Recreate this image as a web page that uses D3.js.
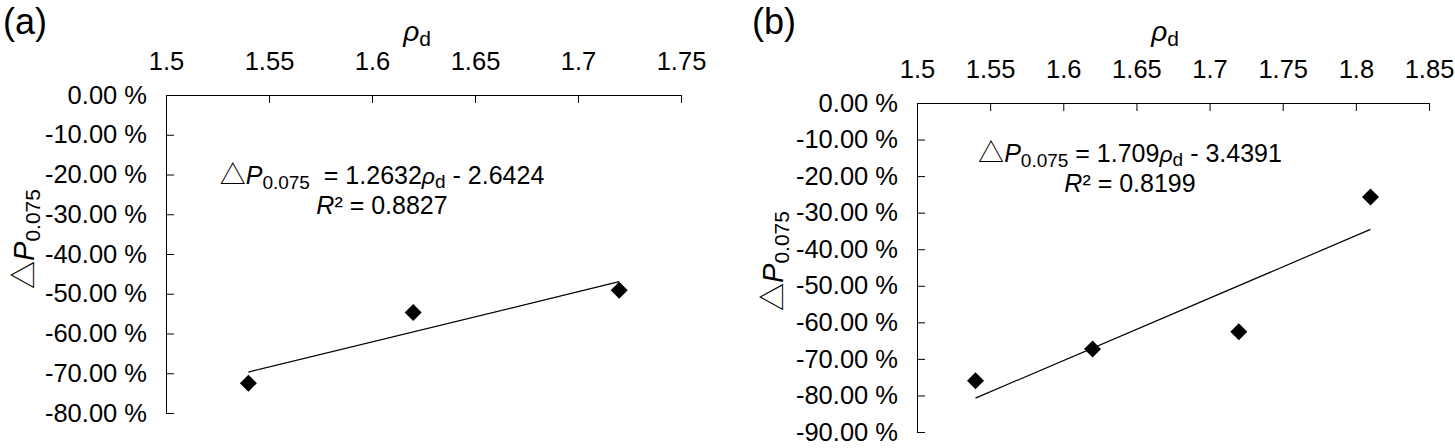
<!DOCTYPE html>
<html>
<head>
<meta charset="utf-8">
<script src="https://cdn.jsdelivr.net/npm/d3@7"></script>
<style>
  html, body { margin: 0; padding: 0; background: #fff; }
  svg { display: block; }
  text { font-family: "Liberation Sans Narrow", "Arial Narrow", "Liberation Sans", Arial, sans-serif; fill: #000; }
</style>
</head>
<body>
<svg id="chart" width="1455" height="448"></svg>
<script>
// ---------------- data ----------------
const panelLabels = ["(a)", "(b)"];

const xTicksA = [1.5, 1.55, 1.6, 1.65, 1.7, 1.75];
const yTicksA = [0, -0.1, -0.2, -0.3, -0.4, -0.5, -0.6, -0.7, -0.8];
const rhoA = [1.54, 1.62, 1.72];
const dPA = [-0.725, -0.547, -0.491];
const fitA = [1.2632, -2.6424];   // slope, intercept
const r2A = "0.8827";

const xTicksB = [1.5, 1.55, 1.6, 1.65, 1.7, 1.75, 1.8, 1.85];
const yTicksB = [0, -0.1, -0.2, -0.3, -0.4, -0.5, -0.6, -0.7, -0.8, -0.9];
const rhoB = [1.54, 1.62, 1.72, 1.81];
const dPB = [-0.760, -0.673, -0.626, -0.257];
const fitB = [1.709, -3.4391];
const r2B = "0.8199";

// ---------------- layout ----------------
const svg = d3.select("#chart");
const FS = 25.5;
const EQ = 25;

const panels = [
  { label: panelLabels[0], labelX: 3, xTicks: xTicksA, yTicks: yTicksA, rho: rhoA, dP: dPA, fit: fitA, r2: r2A,
    left: 166, right: 681, top: 95, bottom: 413, titleX: 417, titleY: 41,
    yTitleX: 34, yTitleY: 239, eqX: 382, eqY: 184, eqGap: "\u00a0\u00a0" },
  { label: panelLabels[1], labelX: 752, xTicks: xTicksB, yTicks: yTicksB, rho: rhoB, dP: dPB, fit: fitB, r2: r2B,
    left: 917, right: 1429, top: 103, bottom: 432, titleX: 1165, titleY: 41,
    yTitleX: 783, yTitleY: 261, eqX: 1130, eqY: 162, eqGap: "\u00a0" }
];

function richText(g, segs, opts) {
  const t = g.append("text")
    .attr("x", opts.x).attr("y", opts.y)
    .attr("text-anchor", opts.anchor || "start")
    .style("font-size", (opts.size || FS) + "px");
  if (opts.transform) t.attr("transform", opts.transform);
  let shift = 0;
  segs.forEach(s => {
    const ts = t.append("tspan").text(s.t);
    const want = s.sub ? s.sub : 0;
    if (want !== shift) { ts.attr("dy", want - shift); shift = want; }
    if (s.italic) ts.style("font-style", "italic");
    if (s.size) ts.style("font-size", s.size + "px");
    if (s.font) ts.style("font-family", s.font);
  });
  return t;
}

const TRI_FONT = '"Noto Sans CJK SC", "DejaVu Sans", sans-serif';
const REG_FONT = '"Liberation Sans", Arial, sans-serif';

panels.forEach(p => {
  const g = svg.append("g");
  const x = d3.scaleLinear().domain([p.xTicks[0], p.xTicks[p.xTicks.length - 1]]).range([p.left, p.right]);
  const y = d3.scaleLinear().domain([p.yTicks[0], p.yTicks[p.yTicks.length - 1]]).range([p.top, p.bottom]);

  // panel label
  g.append("text").attr("x", p.labelX).attr("y", 34).style("font-size", "36px").text(p.label);

  // x axis (top)
  const xa = g.append("g").attr("transform", `translate(0,${p.top})`)
    .call(d3.axisTop(x).tickValues(p.xTicks).tickFormat(d => String(d))
      .tickSizeInner(-8).tickSizeOuter(0).tickPadding(25));
  xa.selectAll("text").style("font-size", FS + "px");
  xa.attr("font-family", null).attr("font-size", null);

  // y axis (left)
  const ya = g.append("g").attr("transform", `translate(${p.left},0)`)
    .call(d3.axisLeft(y).tickValues(p.yTicks).tickFormat(d => (Math.abs(d) < 1e-9 ? 0 : d * 100).toFixed(2) + " %")
      .tickSizeInner(-8).tickSizeOuter(0).tickPadding(19));
  ya.selectAll("text").style("font-size", FS + "px");
  ya.attr("font-family", null).attr("font-size", null);
  g.selectAll(".domain, .tick line").attr("stroke", "#000").attr("stroke-width", 1);

  // x title
  richText(g, [{ t: "ρ", italic: true, size: 28, font: REG_FONT }, { t: "d", sub: 5, size: 21 }],
    { x: p.titleX, y: p.titleY, anchor: "middle" });

  // y title
  richText(g, [{ t: "△", font: TRI_FONT, size: 28 }, { t: "P", italic: true, size: 29 }, { t: "0.075", sub: 6, size: 21 }],
    { x: p.yTitleY, y: p.yTitleX, anchor: "middle", transform: `rotate(-90) translate(${-2 * p.yTitleY},0)` });

  // trendline
  const xs = [d3.min(p.rho), d3.max(p.rho)];
  g.append("path")
    .attr("d", d3.line().x(d => x(d)).y(d => y(p.fit[0] * d + p.fit[1]))(xs))
    .attr("fill", "none").attr("stroke", "#000").attr("stroke-width", 1.2);

  // markers (diamonds)
  const h = 8.5;
  g.selectAll("path.pt").data(p.rho.map((r, i) => [r, p.dP[i]])).enter().append("path")
    .attr("class", "pt")
    .attr("transform", d => `translate(${x(d[0])},${y(d[1])})`)
    .attr("d", `M0,${-h}L${h},0L0,${h}L${-h},0Z`)
    .attr("fill", "#000");

  // equation
  const slope = String(p.fit[0]);
  const icpt = String(Math.abs(p.fit[1]));
  richText(g, [
    { t: "△", font: TRI_FONT, size: 26 }, { t: "P", italic: true },
    { t: "0.075", sub: 5, size: 19 },
    { t: p.eqGap + "= " + slope, sub: 0 }, { t: "ρ", italic: true, font: REG_FONT, size: 23 },
    { t: "d", sub: 4, size: 19 }, { t: " - " + icpt, sub: 0 }
  ], { x: p.eqX, y: p.eqY, anchor: "middle", size: EQ });
  richText(g, [{ t: "R", italic: true }, { t: "² = " + p.r2 }],
    { x: p.eqX, y: p.eqY + 30, anchor: "middle", size: EQ });
});
</script>
</body>
</html>
